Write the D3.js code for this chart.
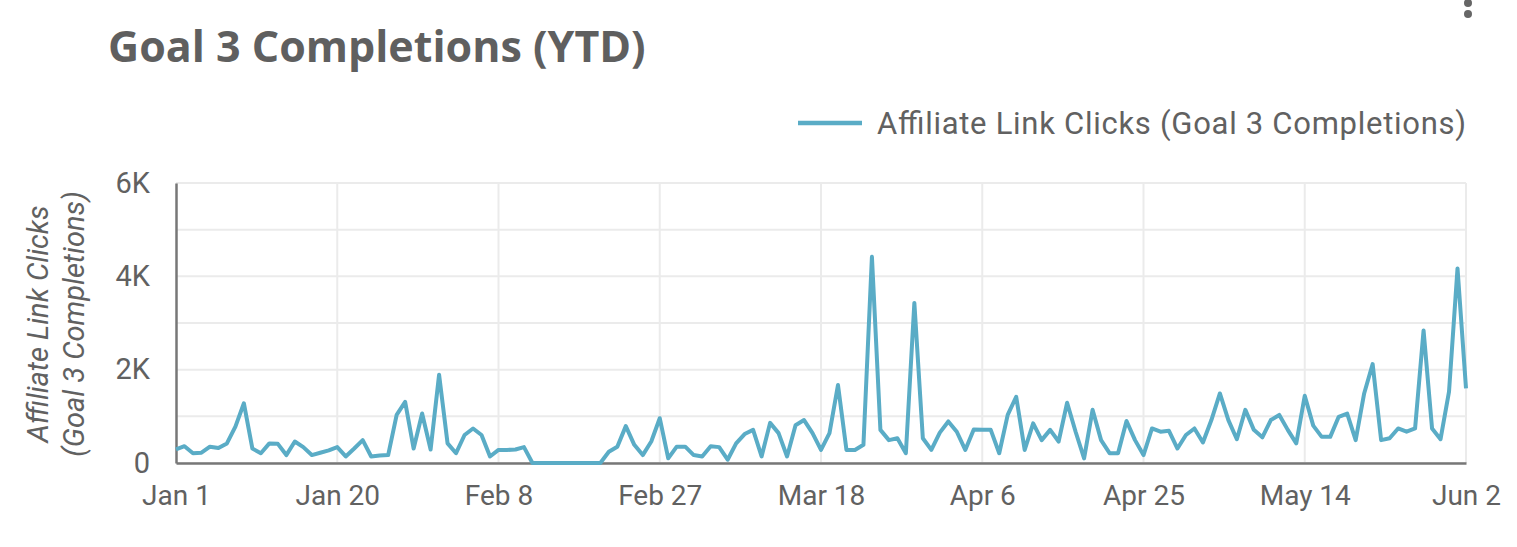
<!DOCTYPE html>
<html>
<head>
<meta charset="utf-8">
<script src="https://d3js.org/d3.v7.min.js"></script>
<style>
body { margin: 0; background: #fff; }
svg { display: block; }
</style>
</head>
<body>
<svg width="1517" height="547"></svg>
<script>
// daily values, Jan 1 .. Jun 2
var startDay = "Jan 1 2019";
var clicks = [
	290, 360, 210, 220, 350, 320, 420, 780, 1280, 310,
	210, 420, 410, 170, 460, 340, 170, 220, 270, 340,
	140, 310, 490, 140, 160, 170, 1030, 1310, 310, 1060,
	290, 1890, 420, 210, 600, 740, 600, 140, 280, 280,
	290, 340, 0, 0, 0, 0, 0, 0, 0, 0,
	0, 240, 350, 790, 390, 170, 460, 960, 100, 350,
	350, 170, 140, 360, 340, 70, 420, 620, 710, 140,
	860, 640, 140, 810, 920, 640, 280, 640, 1670, 280,
	280, 390, 4420, 710, 490, 530, 210, 3430, 530, 280,
	650, 890, 670, 280, 720, 710, 710, 210, 1030, 1420,
	280, 850, 490, 710, 460, 1290, 670, 100, 1140, 490,
	210, 210, 900, 490, 170, 740, 670, 690, 310, 600,
	740, 440, 920, 1490, 920, 510, 1140, 710, 550, 920,
	1030, 710, 420, 1440, 800, 560, 560, 990, 1060, 490,
	1490, 2120, 490, 530, 740, 670, 740, 2840, 740, 510,
	1530, 4170, 1600
];
var xTickLabels = ["Jan 1", "Jan 20", "Feb 8", "Feb 27", "Mar 18", "Apr 6", "Apr 25", "May 14", "Jun 2"];
var yTicks = [0, 2000, 4000, 6000];
var yGrid = [0, 1000, 2000, 3000, 4000, 5000, 6000];
var seriesName = "Affiliate Link Clicks (Goal 3 Completions)";

var margin = {left: 176, top: 183, right: 51, bottom: 84};
var svg = d3.select("svg");
var width = svg.attr("width") - margin.left - margin.right,
	height = svg.attr("height") - margin.top - margin.bottom;
var lineColor = "#5aacc6", textColor = "#616161";

var parse = d3.utcParse("%b %d %Y");
var t0 = parse(startDay);
var data = clicks.map((v, i) => ({date: d3.utcDay.offset(t0, i), value: v}));
var tickDates = xTickLabels.map(s => parse(s + " 2019"));

var x = d3.scaleUtc()
	.domain([t0, data[data.length - 1].date])
	.range([0, width]);
var y = d3.scaleLinear()
	.domain([0, 6000])
	.range([height, 0]);

var grp = svg.append("g")
	.attr("transform", "translate(" + margin.left + "," + margin.top + ")");

// grid
grp.append("g").selectAll("line").data(yGrid)
	.enter().append("line")
	.attr("x1", 0).attr("x2", width)
	.attr("y1", d => y(d)).attr("y2", d => y(d))
	.style("stroke", "#ebebeb").style("stroke-width", 2);
grp.append("g").selectAll("line").data(tickDates.slice(1))
	.enter().append("line")
	.attr("x1", d => x(d)).attr("x2", d => x(d))
	.attr("y1", 0).attr("y2", height)
	.style("stroke", "#ebebeb").style("stroke-width", 2);

// axes
var xAxis = grp.append("g")
	.attr("transform", "translate(0," + height + ")")
	.call(d3.axisBottom(x).tickValues(tickDates).tickSize(0).tickPadding(22)
		.tickFormat((d, i) => xTickLabels[i]));
var yAxis = grp.append("g")
	.call(d3.axisLeft(y).tickValues(yTicks).tickSize(0).tickPadding(26)
		.tickFormat(d => d === 0 ? "0" : d / 1000 + "K"));
[xAxis, yAxis].forEach(a => {
	a.select(".domain").style("stroke", "#777").style("stroke-width", 2.5);
	a.selectAll("text")
		.style("font-family", "Roboto")
		.style("font-size", "28px")
		.style("fill", textColor);
});
yAxis.selectAll("text").style("font-size", "29px");

// series
var line = d3.line()
	.x(d => x(d.date))
	.y(d => y(d.value));
grp.append("path")
	.datum(data)
	.attr("d", line)
	.style("fill", "none")
	.style("stroke", lineColor)
	.style("stroke-width", 4)
	.style("stroke-linejoin", "round");

// y title
var yTitle = svg.append("text")
	.attr("transform", "translate(48,324)rotate(-90)")
	.style("font-family", "Roboto")
	.style("font-style", "italic")
	.style("font-size", "29px")
	.style("fill", textColor)
	.attr("text-anchor", "middle");
yTitle.append("tspan").attr("x", 0).attr("y", 0).text("Affiliate Link Clicks");
yTitle.append("tspan").attr("x", 0).attr("y", 36).text("(Goal 3 Completions)");

// title
svg.append("text")
	.attr("x", 108).attr("y", 62)
	.style("font-family", "Open Sans")
	.style("font-weight", 700)
	.style("font-size", "43px")
	.style("fill", "#5f5f5f")
	.text("Goal 3 Completions (YTD)");

// legend
var legend = svg.append("g").attr("transform", "translate(798,123)");
legend.append("line")
	.attr("x1", 0).attr("x2", 64)
	.style("stroke", lineColor).style("stroke-width", 4.5);
legend.append("text")
	.attr("x", 79).attr("y", 11)
	.attr("textLength", 589)
	.style("font-family", "Roboto")
	.style("font-size", "31px")
	.style("fill", textColor)
	.text(seriesName);

// menu dots
svg.append("g").selectAll("circle").data([3, 14])
	.enter().append("circle")
	.attr("cx", 1468).attr("cy", d => d).attr("r", 4)
	.style("fill", "#666");
</script>
</body>
</html>
